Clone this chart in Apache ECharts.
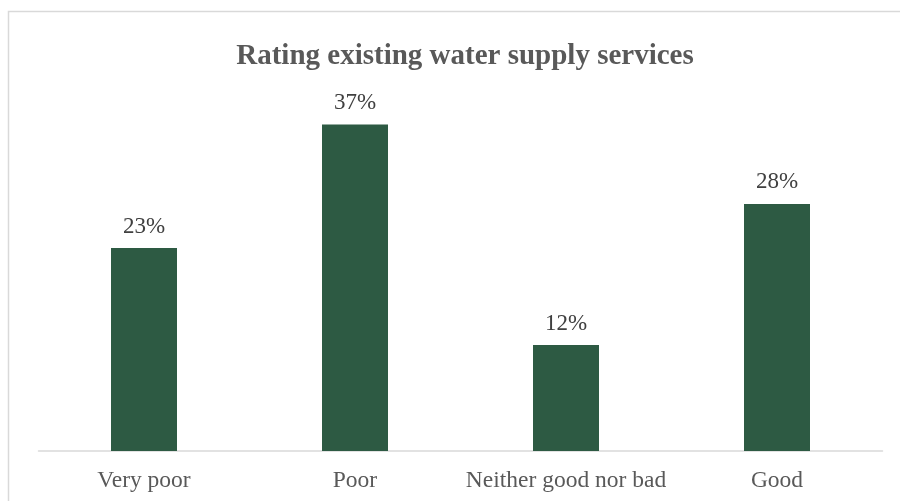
<!DOCTYPE html>
<html>
<head>
<meta charset="utf-8">
<script src="https://cdn.jsdelivr.net/npm/echarts@6/dist/echarts.min.js"></script>
<style>
  html, body { margin: 0; padding: 0; background: #ffffff; }
  #chart { width: 900px; height: 501px; }
</style>
</head>
<body>
<div id="chart"></div>
<script>
// Survey responses: how people rate their current water supply
const categories = ['Very poor', 'Poor', 'Neither good nor bad', 'Good'];
const shares = [23, 37, 12, 28];
const titleText = 'Rating existing water supply services';

const chart = echarts.init(document.getElementById('chart'), null, { renderer: 'canvas' });

chart.setOption({
  backgroundColor: '#ffffff',
  animation: false,
  title: {
    text: titleText,
    left: 460,
    textAlign: 'center',
    top: 37,
    textStyle: {
      fontFamily: '"Liberation Serif", "Times New Roman", serif',
      fontWeight: 'bold',
      fontSize: 29,
      color: '#595959'
    }
  },
  graphic: [{
    type: 'rect',
    shape: { x: 8.5, y: 11.5, width: 1000, height: 600 },
    style: { fill: 'none', stroke: '#d9d9d9', lineWidth: 1.5 },
    silent: true,
    z: -1
  }],
  grid: { left: 38.5, right: 17.5, top: 98, bottom: 50, containLabel: false },
  xAxis: {
    type: 'category',
    data: categories,
    axisLine: { show: true, lineStyle: { color: '#d9d9d9', width: 1.5 } },
    axisTick: { show: false },
    axisLabel: {
      margin: 18,
      fontFamily: '"Liberation Serif", "Times New Roman", serif',
      fontSize: 23.5,
      color: '#595959',
      interval: 0
    }
  },
  yAxis: {
    type: 'value',
    min: 0,
    max: 40,
    show: false,
    splitLine: { show: false }
  },
  series: [{
    type: 'bar',
    data: shares,
    barWidth: 66,
    itemStyle: { color: '#2d5a43' },
    label: {
      show: true,
      position: 'top',
      distance: 10,
      formatter: p => p.value + '%',
      fontFamily: '"Liberation Serif", "Times New Roman", serif',
      fontSize: 23,
      color: '#404040'
    }
  }]
});
</script>
</body>
</html>
